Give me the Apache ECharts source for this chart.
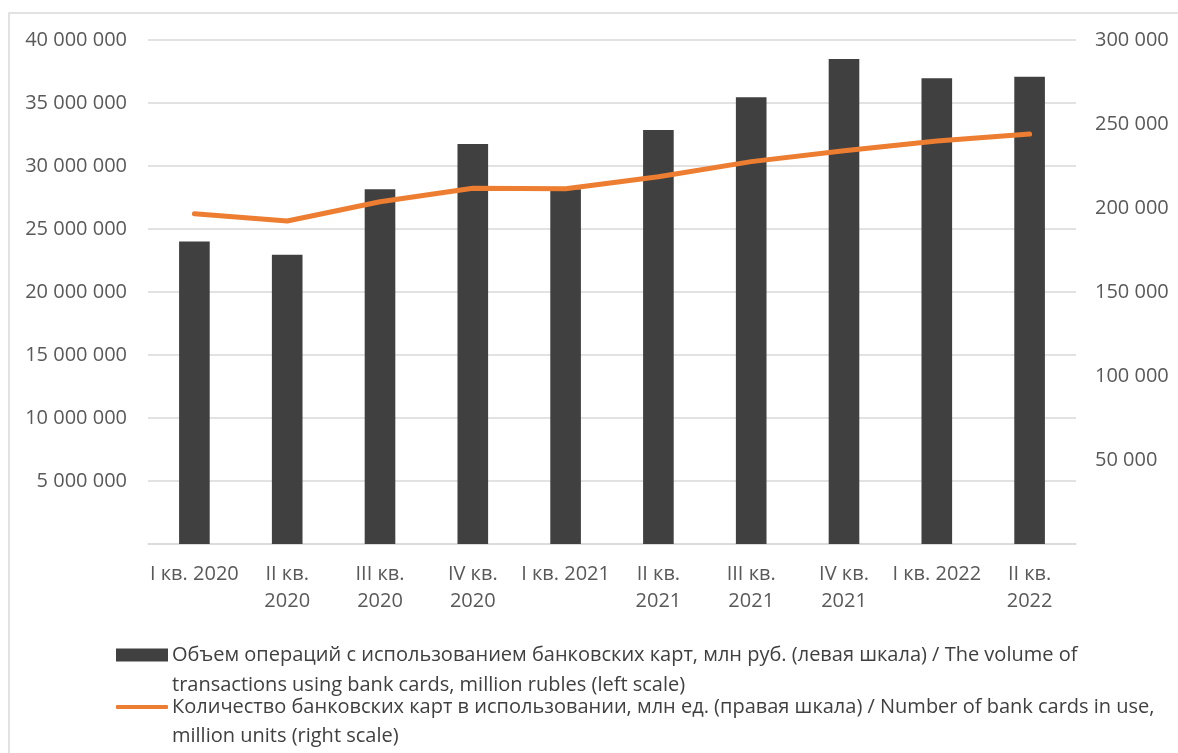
<!DOCTYPE html>
<html>
<head>
<meta charset="utf-8">
<script src="https://cdn.jsdelivr.net/npm/echarts@6/dist/echarts.min.js"></script>
<style>html,body{margin:0;padding:0;background:#fff}#c{width:1178px;height:753px}</style>
</head>
<body>
<div id="c"></div>
<script>
var categories = ['I кв. 2020', 'II кв.\n2020', 'III кв.\n2020', 'IV кв.\n2020', 'I кв. 2021', 'II кв.\n2021', 'III кв.\n2021', 'IV кв.\n2021', 'I кв. 2022', 'II кв.\n2022'];
var volumeValues = [24000000, 22950000, 28150000, 31750000, 28150000, 32860000, 35450000, 38490000, 36960000, 37090000];
var cardsValues = [196600, 192300, 203700, 211700, 211500, 218600, 227600, 234100, 239900, 244000];
var barName = 'Объем операций с использованием банковских карт, млн руб. (левая шкала) / The volume of';
var barName2 = 'transactions using bank cards, million rubles (left scale)';
var lineName = 'Количество банковских карт в использовании, млн ед. (правая шкала) / Number of bank cards in use,';
var lineName2 = 'million units (right scale)';

var FONT = '"Open Sans", "Noto Sans", sans-serif';
function fmt(v) { return String(v).replace(/\B(?=(\d{3})+(?!\d))/g, ' '); }

var chart = echarts.init(document.getElementById('c'));
chart.setOption({
  backgroundColor: '#fff',
  animation: false,
  textStyle: { fontFamily: FONT },
  grid: { left: 148, right: 102, top: 40, bottom: 209 },
  legend: [
    {
      left: 116, top: 645, padding: 0, itemWidth: 52, itemHeight: 13, itemGap: 0,
      data: [{ name: barName, icon: 'rect' }],
      textStyle: { fontFamily: FONT, fontSize: 20, color: '#404040', padding: [0, 0, 0, -1] },
      selectedMode: false
    },
    {
      left: 116, top: 697, padding: 0, itemWidth: 52, itemHeight: 4, itemGap: 0,
      data: [{ name: lineName, icon: 'roundRect' }],
      textStyle: { fontFamily: FONT, fontSize: 20, color: '#404040', padding: [0, 0, 0, -1] },
      selectedMode: false
    }
  ],
  graphic: [
    { type: 'rect', shape: { x: 9, y: 13, width: 1200, height: 800 }, style: { fill: 'none', stroke: '#d9d9d9', lineWidth: 1.5 }, silent: true },
    { type: 'text', left: 172, top: 675, style: { text: barName2, font: '20px ' + FONT, fill: '#404040' } },
    { type: 'text', left: 172, top: 726, style: { text: lineName2, font: '20px ' + FONT, fill: '#404040' } }
  ],
  xAxis: {
    type: 'category',
    data: categories,
    axisLine: { lineStyle: { color: '#d9d9d9', width: 1.5 } },
    axisTick: { show: false },
    axisLabel: { color: '#595959', fontSize: 20, fontFamily: FONT, margin: 17, lineHeight: 27, interval: 0 }
  },
  yAxis: [
    {
      type: 'value', min: 0, max: 40000000, interval: 5000000,
      axisLine: { show: false }, axisTick: { show: false },
      splitLine: { lineStyle: { color: '#d9d9d9', width: 1.5 } },
      axisLabel: { color: '#595959', fontSize: 20, fontFamily: FONT, margin: 21, showMinLabel: false, formatter: fmt }
    },
    {
      type: 'value', min: 0, max: 300000, interval: 50000,
      axisLine: { show: false }, axisTick: { show: false },
      splitLine: { show: false },
      axisLabel: { color: '#595959', fontSize: 20, fontFamily: FONT, margin: 19, showMinLabel: false, formatter: fmt }
    }
  ],
  series: [
    {
      name: barName, type: 'bar', yAxisIndex: 0, data: volumeValues,
      barWidth: '33%',
      itemStyle: { color: '#404040' }
    },
    {
      name: lineName, type: 'line', yAxisIndex: 1, data: cardsValues,
      symbol: 'none',
      lineStyle: { color: '#ED7D31', width: 5, cap: 'round', join: 'round' },
      itemStyle: { color: '#ED7D31' }
    }
  ]
});
</script>
</body>
</html>
